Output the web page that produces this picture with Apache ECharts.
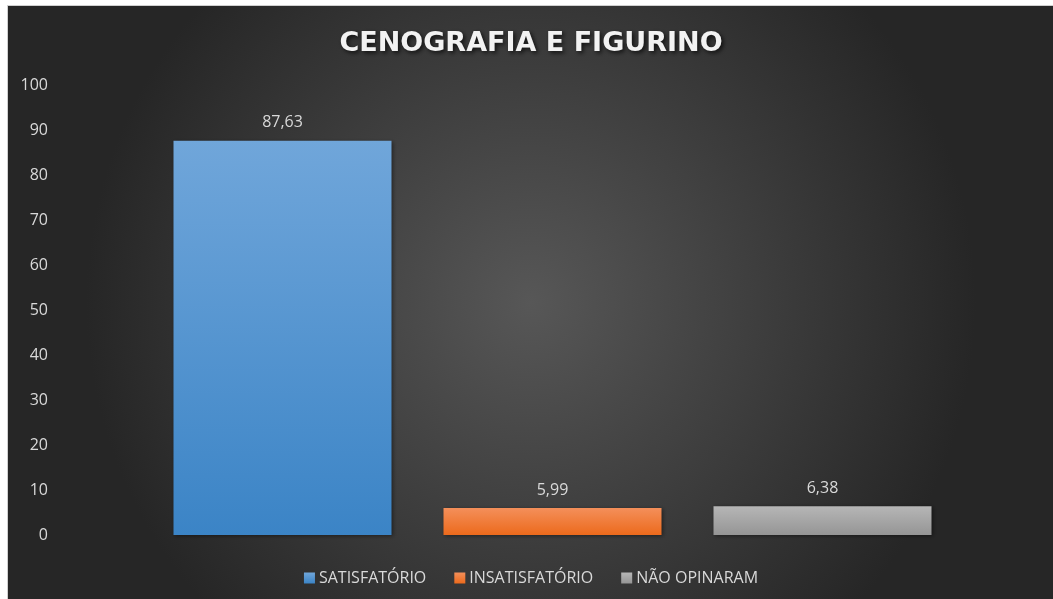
<!DOCTYPE html>
<html>
<head>
<meta charset="utf-8">
<script src="https://cdn.jsdelivr.net/npm/echarts@6/dist/echarts.min.js"></script>
<style>
  html, body { margin: 0; padding: 0; background: #fff; overflow: hidden; width: 1053px; height: 599px; }
  #chart { position: absolute; left: 7px; top: 5px; width: 1046px; height: 593px;
           border-left: 1px solid #d0d0d0; border-top: 1px solid #d0d0d0; }
</style>
</head>
<body>
<div id="chart"></div>
<script>
var titleText = 'CENOGRAFIA E FIGURINO';
var categories = ['SATISFATÓRIO', 'INSATISFATÓRIO', 'NÃO OPINARAM'];
var values = [87.63, 5.99, 6.38];
var yTicks = { min: 0, max: 100, interval: 10 };

var barColors = [
    ['#70a6da', '#3b84c6'],
    ['#f48f5a', '#ec6a1c'],
    ['#b6b6b6', '#959595']
];

var chart = echarts.init(document.getElementById('chart'));

// one series per category so the legend gets three entries
var series = categories.map(function (name, i) {
    var data = categories.map(function (c, j) { return j === i ? values[i] : '-'; });
    return {
        name: name,
        type: 'bar',
        stack: 'all',
        barWidth: 218,
        data: data,
        itemStyle: {
            color: {
                type: 'linear', x: 0, y: 0, x2: 0, y2: 1,
                colorStops: [
                    { offset: 0, color: barColors[i][0] },
                    { offset: 1, color: barColors[i][1] }
                ]
            },
            shadowColor: 'rgba(0,0,0,0.45)',
            shadowBlur: 4,
            shadowOffsetX: 1,
            shadowOffsetY: 1
        },
        label: {
            show: true,
            position: 'top',
            distance: 10,
            color: '#d9d9d9',
            fontFamily: 'Open Sans',
            fontSize: 16,
            formatter: function (p) { return String(p.value).replace('.', ','); }
        }
    };
});

chart.setOption({
    backgroundColor: {
        type: 'radial', x: 0.5, y: 0.5, r: 0.75,
        colorStops: [
            { offset: 0, color: '#575757' },
            { offset: 1, color: '#262626' }
        ]
    },
    title: {
        text: titleText,
        left: 'center',
        top: 19,
        textStyle: {
            color: '#f2f2f2',
            fontFamily: 'DejaVu Sans',
            fontWeight: 'bold',
            fontSize: 27,
            textShadowColor: 'rgba(0,0,0,0.7)',
            textShadowBlur: 4,
            textShadowOffsetX: 2,
            textShadowOffsetY: 2
        }
    },
    legend: {
        top: 559,
        left: 'center',
        itemWidth: 11,
        itemHeight: 11,
        itemGap: 28,
        icon: 'rect',
        textStyle: { color: '#d9d9d9', fontFamily: 'Open Sans', fontSize: 16, lineHeight: 16, padding: [0, 0, 0, -1] },
        data: categories
    },
    grid: { left: 139.5, right: 96.5, top: 79, bottom: 64 },
    xAxis: {
        type: 'category',
        data: categories,
        axisLine: { show: false },
        axisTick: { show: false },
        axisLabel: { show: false }
    },
    yAxis: {
        type: 'value',
        min: yTicks.min,
        max: yTicks.max,
        interval: yTicks.interval,
        splitLine: { show: false },
        axisLine: { show: false },
        axisTick: { show: false },
        axisLabel: { color: '#d9d9d9', fontFamily: 'Open Sans', fontSize: 16, margin: 99.5 }
    },
    series: series
});
</script>
</body>
</html>
